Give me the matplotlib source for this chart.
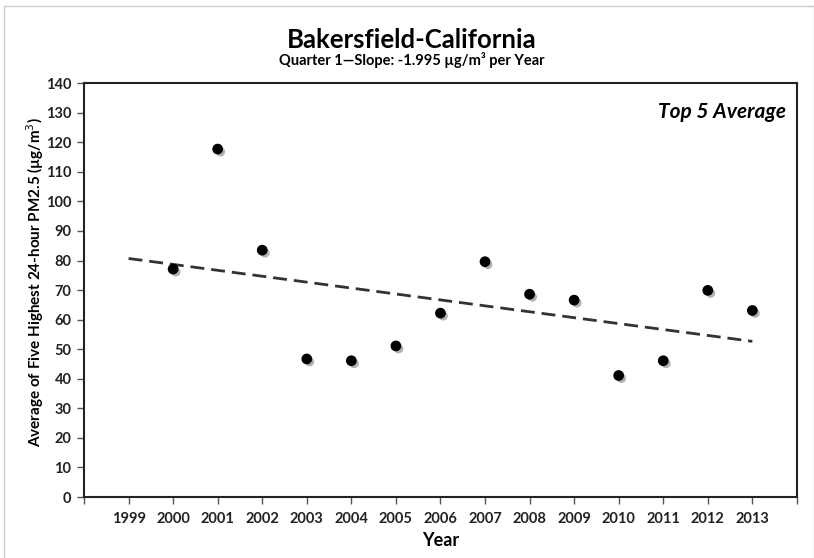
import numpy as np
import matplotlib.pyplot as plt
import matplotlib.patheffects as pe
from matplotlib.patches import Rectangle

# values
years = [2000, 2001, 2002, 2003, 2004, 2005, 2006, 2007, 2008, 2009, 2010, 2011, 2012, 2013]
top5_avg = [77.1, 117.7, 83.5, 46.7, 46.1, 51.1, 62.2, 79.6, 68.6, 66.6, 41.1, 46.1, 69.9, 63.1]
label_years = list(range(1999, 2014))
slope_text = 'Quarter 1\u2014Slope: -1.995 \u00b5g/m\u00b3 per Year'

plt.rcParams['font.family'] = ['Lato', 'DejaVu Sans']

fig = plt.figure(figsize=(8.14, 5.58), dpi=100)
ax = fig.add_axes([0.1032, 0.1093, 0.8758, 0.7417])

# trend line, fitted and extended back to 1999
coef = np.polyfit(years, top5_avg, 1)
tx = np.array([1999, 2013])
ax.plot(tx, np.polyval(coef, tx), color='#333333', lw=2, dashes=(5, 2.5),
        path_effects=[pe.SimplePatchShadow(offset=(1, -1), alpha=0.25), pe.Normal()])

ax.scatter(years, top5_avg, s=45, color='black', zorder=3,
           path_effects=[pe.SimplePatchShadow(offset=(2, -2), alpha=0.3), pe.Normal()])

ax.set_xlim(1998, 2014)
ax.set_ylim(0, 140)
ax.set_xticks(range(1998, 2015))
ax.set_xticklabels([''] + [str(y) for y in label_years] + [''])
ax.set_yticks(range(0, 141, 10))

for s in ax.spines.values():
    s.set_linewidth(1.5)
    s.set_color('#222222')
ax.tick_params(axis='both', direction='out', length=5, width=1, color='#555555')
ax.tick_params(axis='x', labelsize=10.5, pad=6)
ax.tick_params(axis='y', labelsize=10.5, pad=4)
for lab in ax.get_xticklabels() + ax.get_yticklabels():
    lab.set_fontweight('bold')
    lab.set_color('#222222')

ax.set_xlabel('Year', fontsize=13, fontweight='bold', labelpad=4)
ax.set_ylabel('Average of Five Highest 24-hour PM2.5 (\u00b5g/m$^3$)', fontsize=11,
              fontweight='bold')
ax.yaxis.set_label_coords(-0.053, 0.52)

ax.text(0.985, 0.955, 'Top 5 Average', transform=ax.transAxes, ha='right', va='top',
        fontsize=15, fontweight='bold', style='italic')

fig.text(0.506, 0.928, 'Bakersfield-California', ha='center', va='center',
         fontsize=18.5, fontweight='bold')
fig.text(0.506, 0.893, slope_text, ha='center', va='center', fontsize=10.5, fontweight='bold')

fig.patches.append(Rectangle((0.005, -0.01), 0.995, 0.999, transform=fig.transFigure,
                             fill=False, edgecolor='#cccccc', lw=1))

fig.savefig('out.png', dpi=100)
